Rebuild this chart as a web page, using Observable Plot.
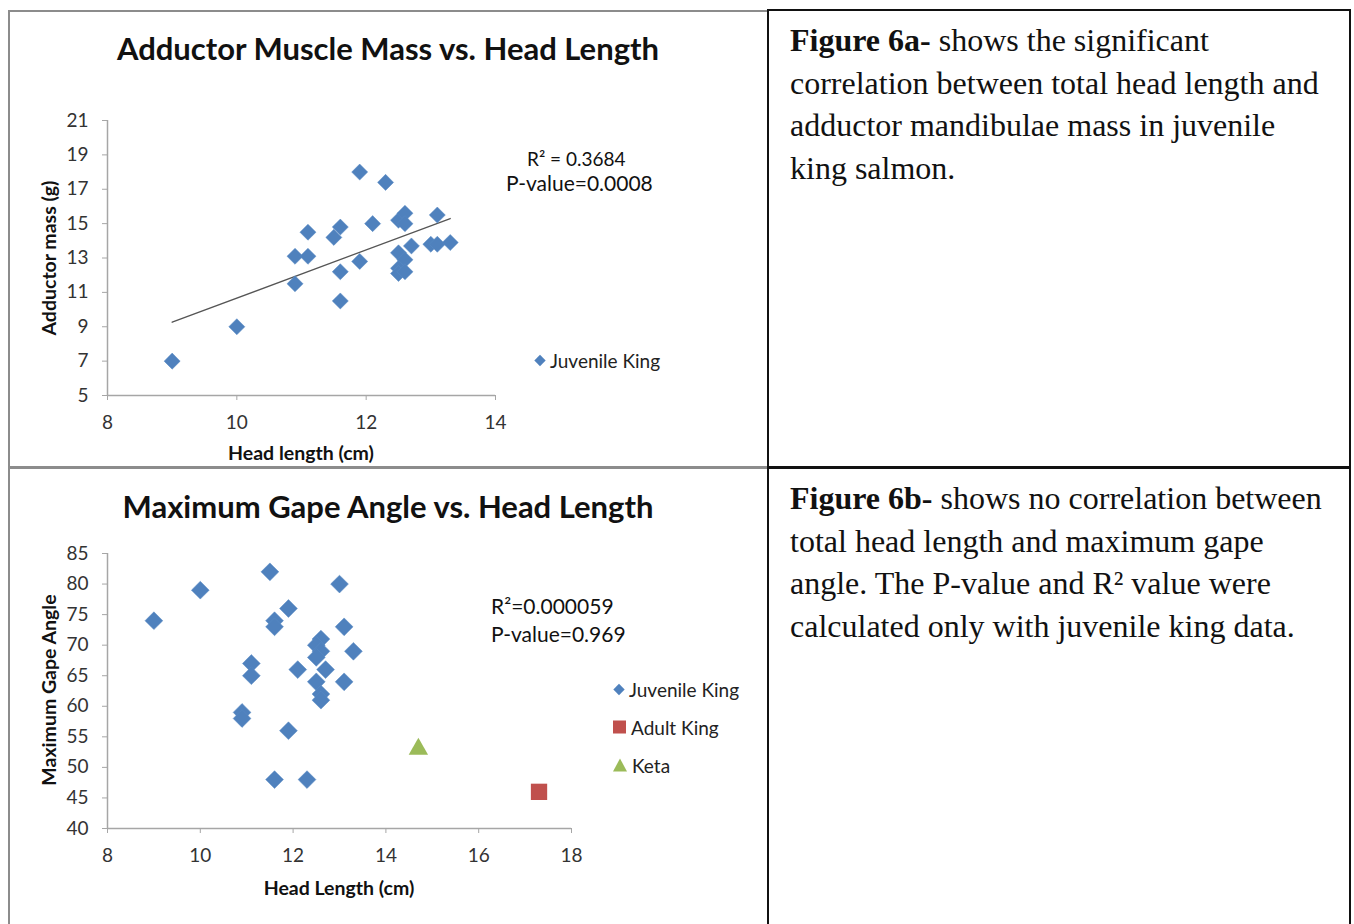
<!DOCTYPE html>
<html>
<head>
<meta charset="utf-8">
<script src="https://cdn.jsdelivr.net/npm/d3@7"></script>
<script src="https://cdn.jsdelivr.net/npm/@observablehq/plot@0.6"></script>
<style>
  html, body { margin: 0; padding: 0; background: #fff; }
  body { width: 1354px; height: 924px; position: relative; overflow: hidden; font-family: Lato, "Open Sans", sans-serif; }
  .cellL { position: absolute; border: 2px solid #8c8c8c; box-sizing: border-box; }
  .cellR { position: absolute; border: 2px solid #111; box-sizing: border-box; }
  .title { position: absolute; font-weight: bold; font-size: 31px; color: #111; white-space: nowrap; transform: translate(-50%, -50%); }
  .axlab { position: absolute; font-weight: bold; font-size: 19.5px; color: #111; white-space: nowrap; transform: translate(-50%, -50%); }
  .axlab.rot { transform: translate(-50%, -50%) rotate(-90deg); }
  .note { position: absolute; font-size: 21px; color: #111; white-space: nowrap; }
  .leg { position: absolute; font-size: 19px; color: #222; white-space: nowrap; display: flex; align-items: center; transform: translateY(-50%); }
  .sym { display: inline-block; margin-right: 4px; }
  .dia { width: 8px; height: 8px; background: #4F81BD; transform: rotate(45deg); margin: 0 6px 0 3px; }
  .sq { width: 13px; height: 13px; background: #C0504D; margin-right: 5px; }
  .tri { width: 0; height: 0; border-left: 7px solid transparent; border-right: 7px solid transparent; border-bottom: 13px solid #9BBB59; margin-right: 5px; }
  .txt { position: absolute; font-family: "Liberation Serif", "Times New Roman", serif; font-size: 32px; line-height: 42.5px; color: #111; white-space: nowrap; }
  .chart { position: absolute; }
</style>
</head>
<body>
<div class="cellL" style="left:8px; top:10px; width:761px; height:459px;"></div>
<div class="cellL" style="left:8px; top:466px; width:761px; height:480px;"></div>
<div class="cellR" style="left:767px; top:9px; width:584px; height:460px;"></div>
<div class="cellR" style="left:767px; top:466px; width:584px; height:480px;"></div>

<div class="title" style="left:388px; top:48px;">Adductor Muscle Mass vs. Head Length</div>
<div class="title" style="left:388px; top:506px;">Maximum Gape Angle vs. Head Length</div>

<div class="axlab rot" style="left:48px; top:258px;">Adductor mass (g)</div>
<div class="axlab" style="left:301px; top:452px;">Head length (cm)</div>
<div class="axlab rot" style="left:48px; top:690px;">Maximum Gape Angle</div>
<div class="axlab" style="left:339px; top:887px;">Head Length (cm)</div>

<div class="note" style="left:527px; top:147px; font-size:19px;">R² = 0.3684</div>
<div class="note" style="left:506px; top:170px;">P-value=0.0008</div>
<div class="note" style="left:491px; top:593px;">R²=0.000059</div>
<div class="note" style="left:491px; top:621px;">P-value=0.969</div>

<div class="leg" style="left:533px; top:360px;"><span class="sym dia"></span>Juvenile King</div>
<div class="leg" style="left:612px; top:689px;"><span class="sym dia"></span>Juvenile King</div>
<div class="leg" style="left:613px; top:727px;"><span class="sym sq"></span>Adult King</div>
<div class="leg" style="left:613px; top:765px;"><span class="sym tri"></span>Keta</div>

<div class="txt" style="left:790px; top:19px;"><b>Figure 6a-</b> shows the significant<br>correlation between total head length and<br>adductor mandibulae mass in juvenile<br>king salmon.</div>
<div class="txt" style="left:790px; top:477px;"><b>Figure 6b-</b> shows no correlation between<br>total head length and maximum gape<br>angle. The P-value and R² value were<br>calculated only with juvenile king data.</div>

<div id="c1" class="chart" style="left:8px; top:90px;"></div>
<div id="c2" class="chart" style="left:8px; top:530px;"></div>

<script>
// ---- Figure 6a data (juvenile king) ----
const headLenA = [9.0, 10.0, 10.9, 10.9, 11.1, 11.1, 11.5, 11.6, 11.6, 11.6, 11.9, 11.9, 12.1, 12.3, 12.5, 12.6, 12.6, 12.5, 12.6, 12.7, 12.5, 12.5, 12.6, 13.0, 13.1, 13.1, 13.3];
const massA    = [7.0, 9.0, 11.5, 13.1, 13.1, 14.5, 14.2, 14.8, 12.2, 10.5, 18.0, 12.8, 15.0, 17.4, 15.2, 15.6, 15.0, 13.3, 12.9, 13.7, 12.4, 12.1, 12.2, 13.8, 13.8, 15.5, 13.9];
const xTicksA = [8, 10, 12, 14];
const yTicksA = [5, 7, 9, 11, 13, 15, 17, 19, 21];

// ---- Figure 6b data ----
const headLenJuv = [9.0, 10.0, 11.5, 13.0, 11.9, 11.6, 11.6, 13.1, 12.6, 12.5, 12.6, 12.5, 13.3, 11.1, 11.1, 12.1, 12.7, 12.5, 13.1, 12.6, 12.6, 10.9, 10.9, 11.9, 11.6, 12.3];
const gapeJuv    = [74, 79, 82, 80, 76, 74, 73, 73, 71, 70, 69, 68, 69, 67, 65, 66, 66, 64, 64, 62, 61, 59, 58, 56, 48, 48];
const headLenAdult = [17.3];
const gapeAdult    = [46];
const headLenKeta  = [14.7];
const gapeKeta     = [53];
const xTicksB = [8, 10, 12, 14, 16, 18];
const yTicksB = [40, 45, 50, 55, 60, 65, 70, 75, 80, 85];

const blue = "#4F81BD", red = "#C0504D", green = "#9BBB59";
const axisGray = "#a6a6a6", tickText = "#333";

const dataA = headLenA.map((x, i) => ({x, y: massA[i]}));
const juv = headLenJuv.map((x, i) => ({x, y: gapeJuv[i]}));
const adult = headLenAdult.map((x, i) => ({x, y: gapeAdult[i]}));
const keta = headLenKeta.map((x, i) => ({x, y: gapeKeta[i]}));

const c1 = Plot.plot({
  width: 700, height: 380,
  marginLeft: 99, marginRight: 213, marginTop: 30, marginBottom: 75,
  style: {fontFamily: "Lato, 'Open Sans', sans-serif", fontSize: "19px", background: "transparent", overflow: "visible"},
  x: {domain: [8, 14]},
  y: {domain: [5, 21]},
  marks: [
    Plot.ruleX([8], {stroke: axisGray, strokeWidth: 1.5}),
    Plot.ruleY([5], {stroke: axisGray, strokeWidth: 1.5}),
    Plot.axisX(xTicksA, {tickSize: 5, tickPadding: 15, stroke: axisGray, fill: tickText, label: null}),
    Plot.axisY(yTicksA, {tickSize: 5, tickPadding: 14, stroke: axisGray, fill: tickText, label: null}),
    Plot.linearRegressionY(dataA, {x: "x", y: "y", ci: 0, stroke: "#555", strokeWidth: 1.3}),
    Plot.dot(dataA, {x: "x", y: "y", symbol: "square", r: 6.4, rotate: 45, fill: blue, stroke: "#5a8ac4", strokeWidth: 0.5})
  ]
});
document.getElementById("c1").append(c1);

const c2 = Plot.plot({
  width: 700, height: 380,
  marginLeft: 99, marginRight: 137, marginTop: 23, marginBottom: 82,
  style: {fontFamily: "Lato, 'Open Sans', sans-serif", fontSize: "19px", background: "transparent", overflow: "visible"},
  x: {domain: [8, 18]},
  y: {domain: [40, 85]},
  marks: [
    Plot.ruleX([8], {stroke: axisGray, strokeWidth: 1.5}),
    Plot.ruleY([40], {stroke: axisGray, strokeWidth: 1.5}),
    Plot.axisX(xTicksB, {tickSize: 5, tickPadding: 15, stroke: axisGray, fill: tickText, label: null}),
    Plot.axisY(yTicksB, {tickSize: 5, tickPadding: 14, stroke: axisGray, fill: tickText, label: null}),
    Plot.dot(juv, {x: "x", y: "y", symbol: "square", r: 7.1, rotate: 45, fill: blue, stroke: "#5a8ac4", strokeWidth: 0.5}),
    Plot.dot(adult, {x: "x", y: "y", symbol: "square", r: 9.2, fill: red}),
    Plot.dot(keta, {x: "x", y: "y", symbol: "triangle", r: 7.2, fill: green})
  ]
});
document.getElementById("c2").append(c2);
</script>
</body>
</html>
